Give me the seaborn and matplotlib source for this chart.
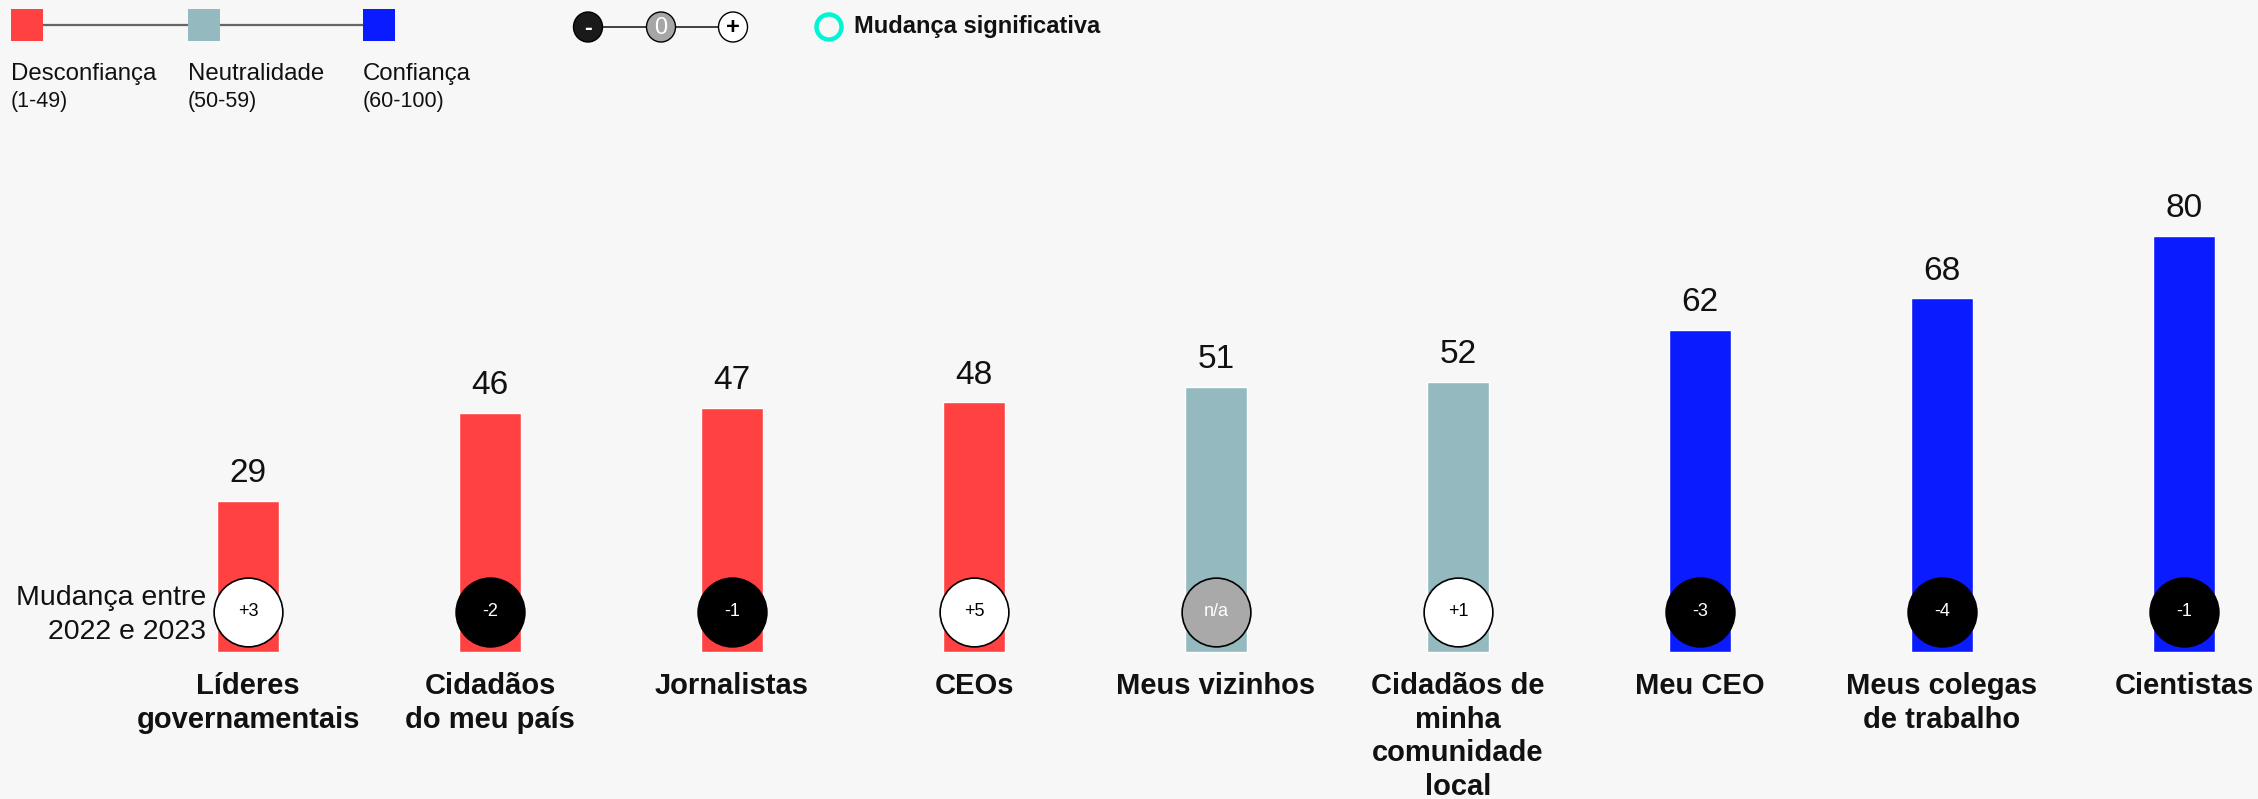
import matplotlib
matplotlib.use("Agg")
import matplotlib.pyplot as plt
import seaborn as sns
import pandas as pd
from matplotlib.patches import Rectangle, Ellipse

# ---------------- data ----------------
categories = ["Líderes\ngovernamentais", "Cidadãos\ndo meu país", "Jornalistas", "CEOs",
              "Meus vizinhos", "Cidadãos de\nminha\ncomunidade\nlocal", "Meu CEO",
              "Meus colegas\nde trabalho", "Cientistas"]
trust_values = [29, 46, 47, 48, 51, 52, 62, 68, 80]
change_labels = ["+3", "-2", "-1", "+5", "n/a", "+1", "-3", "-4", "-1"]
change_kind = ["pos", "neg", "neg", "pos", "na", "pos", "neg", "neg", "neg"]
legend_levels = ["Desconfiança", "Neutralidade", "Confiança"]
legend_ranges = ["(1-49)", "(50-59)", "(60-100)"]

RED, TEAL, BLUE = "#FF4141", "#94BAC0", "#0A1BFF"
BG = "#F7F7F7"

def level_color(v):
    if v < 50:
        return RED
    if v < 60:
        return TEAL
    return BLUE

bar_colors = [level_color(v) for v in trust_values]

W, H = 2258, 799
DPI = 100
sns.set_theme(style="white")
plt.rcParams["font.family"] = ["Liberation Sans", "DejaVu Sans"]

fig = plt.figure(figsize=(W / DPI, H / DPI), dpi=DPI, facecolor=BG)
ax = fig.add_axes([0, 0, 1, 1])
ax.set_facecolor(BG)

df = pd.DataFrame({"cat": categories, "val": trust_values})
sns.barplot(data=df, x="cat", y="val", hue="cat", palette=bar_colors,
            width=0.256, legend=False, ax=ax, saturation=1)

# map pixel geometry: x=0 at px 248, 242 px per category; y=0 at px 652 from top, 5.2 px/unit
x0_px, dx_px = 248, 242
y0_px, dy_px = 652, 5.2
ax.set_xlim(-x0_px / dx_px, (W - x0_px) / dx_px)
ax.set_ylim(-(H - y0_px) / dy_px, y0_px / dy_px)
ax.axis("off")

def P(x, y):
    return (x / W, 1 - y / H)

# value labels
for i, v in enumerate(trust_values):
    ax.annotate(str(v), (i, v), xytext=(0, 13.5), textcoords="offset points",
                ha="center", va="baseline", fontsize=24, color="#111111")

# change circles
circle_y = (y0_px - 612) / dy_px
fc_map = {"pos": "white", "neg": "black", "na": "#A9A9A9"}
tc_map = {"pos": "black", "neg": "white", "na": "white"}
for i, (lab, kind) in enumerate(zip(change_labels, change_kind)):
    ax.scatter([i], [circle_y], s=2450, facecolor=fc_map[kind], edgecolor="black",
               linewidth=1.2, zorder=5)
    ax.text(i, circle_y, lab, ha="center", va="center", fontsize=13,
            color=tc_map[kind], zorder=6)

# category labels
for i, c in enumerate(categories):
    ax.text(i, 1 - 672 / H, c, transform=ax.get_xaxis_transform(), ha="center",
            va="top", fontsize=21, fontweight="bold", color="#111111", linespacing=1.26)

# row label
ax.text(*P(206, 615), "Mudança entre\n2022 e 2023", transform=ax.transAxes,
        ha="right", va="center", fontsize=20.5, color="#111111", linespacing=1.38)

# ---------- legend 1: trust levels ----------
sq_x = [27, 204, 379]
ax.plot([P(27, 25)[0], P(379, 25)[0]], [P(27, 25)[1]] * 2, transform=ax.transAxes,
        color="#666666", lw=1.6, zorder=1)
for x, col, name, rng in zip(sq_x, [RED, TEAL, BLUE], legend_levels, legend_ranges):
    ax.add_patch(Rectangle(P(x - 16, 41), 32 / W, 32 / H, transform=ax.transAxes,
                           facecolor=col, edgecolor="none", zorder=2))
    ax.text(*P(x - 16, 74), name, transform=ax.transAxes, ha="left", va="center",
            fontsize=17.3, color="#111111")
    ax.text(*P(x - 16, 101), rng, transform=ax.transAxes, ha="left", va="center",
            fontsize=15.5, color="#111111")

# ---------- legend 2: change scale ----------
cx = [588, 661, 733]
ax.plot([P(588, 27)[0], P(733, 27)[0]], [P(588, 27)[1]] * 2, transform=ax.transAxes,
        color="#222222", lw=1.2, zorder=1)
for x, fc, tc, sym in zip(cx, ["#1A1A1A", "#A6A6A6", "white"],
                          ["white", "white", "black"], ["-", "0", "+"]):
    ax.add_patch(Ellipse(P(x, 27), 29 / W, 30 / H, transform=ax.transAxes,
                         facecolor=fc, edgecolor="black", lw=1.0, zorder=2))
    ax.text(*P(x, 28), sym, transform=ax.transAxes, ha="center", va="center",
            fontsize=17, fontweight="bold" if sym != "0" else "normal",
            color=tc, zorder=3)

ax.add_patch(Ellipse(P(829, 27), 25 / W, 25 / H, transform=ax.transAxes,
                     facecolor="none", edgecolor="#00F5D4", lw=3.2, zorder=2))
ax.text(*P(854, 27), "Mudança significativa", transform=ax.transAxes, ha="left",
        va="center", fontsize=17, fontweight="bold", color="#111111")

fig.savefig("out.png", dpi=DPI, facecolor=BG)
